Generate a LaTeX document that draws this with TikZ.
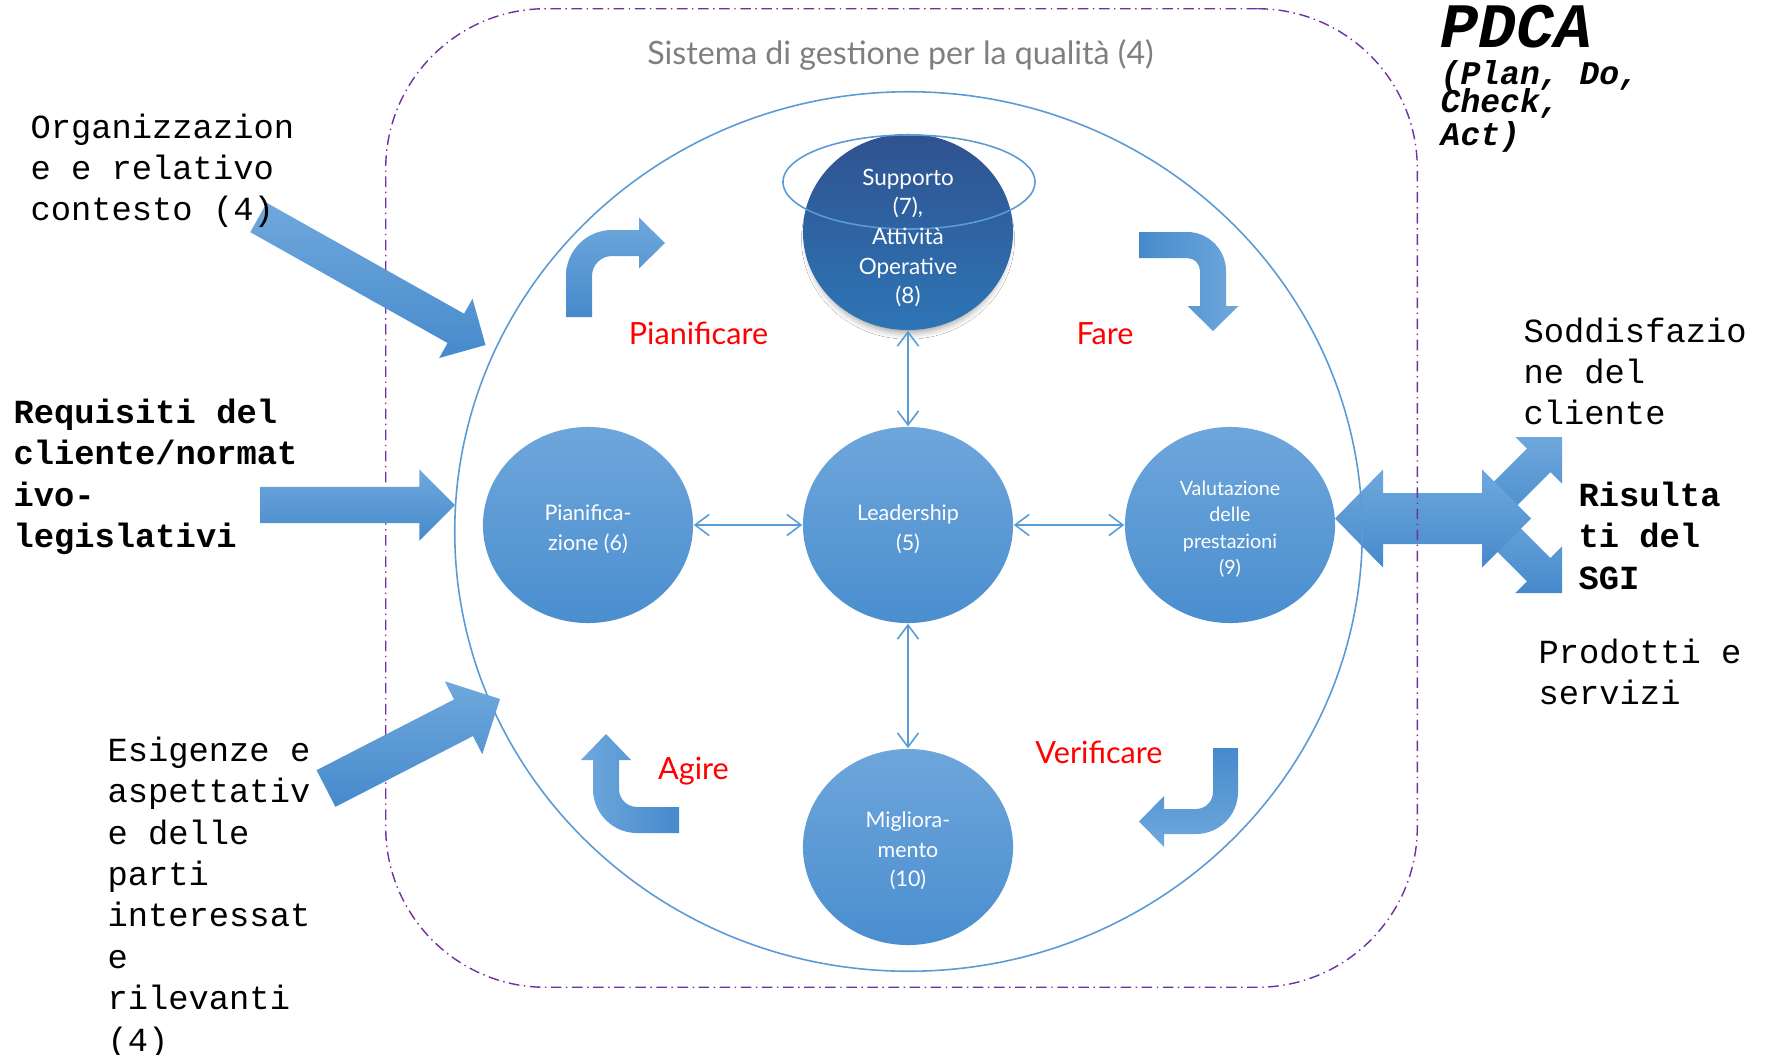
\documentclass[tikz,border=0pt]{standalone}
\usepackage{fontspec}
\setmainfont{Lato}
\newfontfamily\monofont{Liberation Mono}
\usetikzlibrary{calc,shapes.geometric,arrows.meta,shadows.blur}

\definecolor{lineblue}{RGB}{91,155,213}
\definecolor{arrlight}{RGB}{111,168,220}
\definecolor{arrdark}{RGB}{70,138,204}
\definecolor{circtop}{RGB}{110,166,219}
\definecolor{circbot}{RGB}{74,142,207}
\definecolor{suptop}{RGB}{47,82,143}
\definecolor{supbot}{RGB}{46,117,182}
\definecolor{framepurple}{RGB}{112,48,160}
\definecolor{titlegray}{RGB}{127,127,127}

% straight block arrow: tail, tip, half shaft width, half head width (90 degree tip)
\newcommand{\blockarrow}[4]{%
  \coordinate (ba-b) at ($(#2)!#4!(#1)$);
  \shade[blockfill] ($(#1)!#3!90:(#2)$) -- ($(ba-b)!#3!90:(#2)$)
    -- ($(ba-b)!#4!90:(#2)$) -- (#2) -- ($(ba-b)!#4!-90:(#2)$)
    -- ($(ba-b)!#3!-90:(#2)$) -- ($(#1)!#3!-90:(#2)$) -- cycle;
}

\tikzset{
  blockfill/.style={top color=arrlight, bottom color=arrdark},
  stage/.style={ellipse, inner sep=0pt, minimum width=2.1cm, minimum height=1.96cm,
    top color=circtop, bottom color=circbot},
  stagetext/.style={inner sep=0pt, text=white, align=center,
    font=\fontsize{6.1}{8.4}\selectfont},
  link/.style={draw=lineblue, line width=0.45pt, >={Straight Barb[length=4pt,width=6pt]}, <->},
  phase/.style={text=red, anchor=base, inner sep=0pt, font=\fontsize{8.7}{10}\selectfont},
  monotext/.style={anchor=base west, inner sep=0pt, align=flush left, text width=6cm,
    font=\monofont\fontsize{9.6}{11.8}\selectfont},
  monobold/.style={monotext, font=\monofont\bfseries\fontsize{9.6}{11.8}\selectfont},
}

\begin{document}
\begin{tikzpicture}[x=0.01cm, y=-0.01cm]
\useasboundingbox (0,0) rectangle (1766,1054);
\fill[white] (0,0) rectangle (1766,1054);

% outputs on the right: two diagonal arrows behind a double arrow
\coordinate (upT) at (1484,515);
\coordinate (upP) at (1562,437);
\coordinate (dnT) at (1484,515);
\coordinate (dnP) at (1562,593);
\blockarrow{upT}{upP}{0.166cm}{0.33cm}
\blockarrow{dnT}{dnP}{0.166cm}{0.33cm}
\shade[blockfill] (1335,518.5) -- (1383,469.5) -- (1383,493) -- (1482,493)
  -- (1482,469.5) -- (1531,518.5) -- (1482,567.5) -- (1482,544)
  -- (1383,544) -- (1383,567.5) -- cycle;

% system boundary and PDCA cycle
\node[draw=framepurple, line width=0.4pt, rounded corners=1.6cm,
  dash pattern=on 3pt off 1.3pt on 0.4pt off 1.3pt,
  minimum width=10.31cm, minimum height=9.78cm, inner sep=0pt] (frame) at (901.5,498) {};
\node[draw=lineblue, line width=0.45pt, ellipse, minimum width=9.07cm,
  minimum height=8.79cm, inner sep=0pt] (cycle) at (908.5,531.5) {};

% inputs on the left
\coordinate (orgT) at (258.5,217.5);
\coordinate (orgP) at (485.5,345);
\coordinate (reqT) at (260,505);
\coordinate (reqP) at (455,505);
\coordinate (esiT) at (326,788.5);
\coordinate (esiP) at (500,699);
\blockarrow{orgT}{orgP}{0.168cm}{0.34cm}
\blockarrow{reqT}{reqP}{0.18cm}{0.355cm}
\blockarrow{esiT}{esiP}{0.206cm}{0.41cm}

% bent arrows of the cycle
\shade[top color=arrlight, bottom color=arrdark] (566,317) -- (566,276)
  .. controls (566,250.6) and (586.6,230) .. (612,230) -- (639,230) -- (639,217.5)
  -- (665,243) -- (639,268.5) -- (639,256) -- (612,256)
  .. controls (600.95,256) and (592,264.95) .. (592,276) -- (592,317) -- cycle;
\shade[left color=arrdark, right color=arrlight] (1139,232) -- (1187,232)
  .. controls (1208.5,232) and (1226,249.5) .. (1226,271) -- (1226,306) -- (1238.5,306)
  -- (1213,331) -- (1187.5,306) -- (1200,306) -- (1200,271)
  .. controls (1200,263.8) and (1194.2,258) .. (1187,258) -- (1139,258) -- cycle;
\shade[top color=arrdark, bottom color=arrlight] (1213,748) -- (1238,748) -- (1238,792)
  .. controls (1238,815.2) and (1219.2,834) .. (1196,834) -- (1164,834) -- (1164,847)
  -- (1139,821.5) -- (1164,796) -- (1164,809) -- (1196,809)
  .. controls (1205.4,809) and (1213,801.4) .. (1213,792) -- cycle;
\shade[left color=arrlight, right color=arrdark] (679,833) -- (637,833)
  .. controls (612.7,833) and (593,813.3) .. (593,789) -- (593,760) -- (581,760)
  -- (606,734) -- (631,760) -- (619,760) -- (619,789)
  .. controls (619,798.9) and (627.1,807) .. (637,807) -- (679,807) -- cycle;

% clauses
\node[stage, top color=suptop, bottom color=supbot,
  blur shadow={shadow xshift=0pt, shadow yshift=-2.2pt, shadow blur radius=2pt,
    shadow scale=0.95, shadow opacity=40}] (sup) at (908,232) {};
\node[stage] (lead) at (908,525) {};
\node[stage] (plan) at (588,525) {};
\node[stage] (eval) at (1230,525) {};
\node[stage] (impr) at (908,847) {};
\node[draw=lineblue, line width=0.45pt, ellipse, minimum width=2.52cm,
  minimum height=0.94cm, inner sep=0pt] (ring) at (909,182) {};

\node[stagetext, font=\fontsize{6.4}{8.4}\selectfont] (sup-t) at (908,238)
  {Supporto\\(7),\\Attività\\Operative\\(8)};
\node[stagetext] (lead-t) at (908,529) {Leadership\\(5)};
\node[stagetext] (plan-t) at (588,529) {Pianifica-\\zione (6)};
\node[stagetext, font=\fontsize{5.6}{7.5}\selectfont] (eval-t) at (1230,529)
  {Valutazione\\delle\\prestazioni\\(9)};
\node[stagetext] (impr-t) at (908,851) {Migliora-\\mento\\(10)};

\draw[link] (sup) -- (lead);
\draw[link] (plan) -- (lead);
\draw[link] (lead) -- (eval);
\draw[link] (lead) -- (impr);

% phase labels
\node[phase] (p1) at (698.5,344) {Pianificare};
\node[phase] (p2) at (1105,344) {Fare};
\node[phase] (p3) at (1099,763) {Verificare};
\node[phase] (p4) at (693.5,779) {Agire};

\node[anchor=base, inner sep=0pt, text=titlegray, font=\fontsize{9.15}{10}\selectfont]
  (title) at (900.5,64) {Sistema di gestione per la qualità (4)};

% side texts
\node[monotext] (org) at (30,138) {Organizzazion\\e e relativo\\contesto (4)};
\node[monobold] (req) at (13,423) {Requisiti del\\cliente/normat\\ivo-\\legislativi};
\node[monotext] (esi) at (107,761)
  {Esigenze e\\aspettativ\\e delle\\parti\\interessat\\e\\rilevanti\\(4)};
\node[monotext] (sod) at (1523,342) {Soddisfazio\\ne del\\cliente};
\node[monobold] (ris) at (1578,506) {Risulta\\ti del\\SGI};
\node[monotext] (prod) at (1538,663) {Prodotti e\\servizi};
\node[monotext, font=\monofont\bfseries\itshape\fontsize{18}{22}\selectfont]
  (pdca) at (1440,47) {PDCA};
\node[monotext, font=\monofont\bfseries\itshape\fontsize{9.4}{8}\selectfont]
  (pdo) at (1440,84) {\setlength{\lineskiplimit}{-20pt}(Plan, Do,\\Check,\\Act)};
\end{tikzpicture}
\end{document}
